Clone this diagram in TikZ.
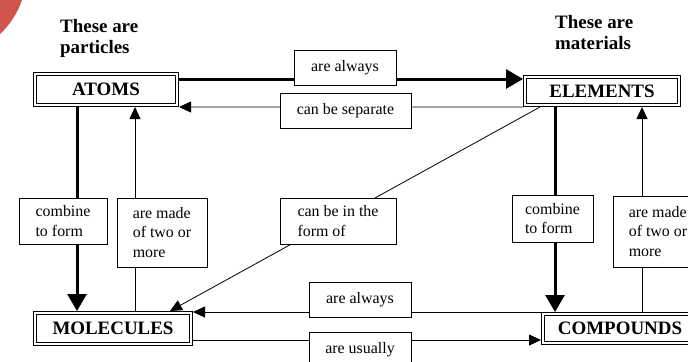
\documentclass[tikz,border=0pt]{standalone}
\usepackage{fontspec}
\setmainfont{Liberation Serif}
\usetikzlibrary{arrows.meta}
\pgfdeclarelayer{background}
\pgfsetlayers{background,main}
\definecolor{cornerred}{RGB}{207,84,74}

\tikzset{
  concept/.style={draw, double, double distance=2bp, line width=0.8bp, fill=white,
    outer sep=1.8bp, inner sep=0pt, font=\fontsize{19}{22}\selectfont\bfseries},
  linkbox/.style={draw, line width=0.8bp, fill=white, inner sep=0pt, minimum height=35bp,
    align=left, font=\fontsize{16}{19.5}\selectfont},
  heading/.style={anchor=north west, inner sep=0pt, align=left,
    font=\fontsize{19}{21.5}\selectfont\bfseries},
  strong/.style={line width=3bp, -{Triangle[length=17bp,width=19bp]}},
  weak/.style={line width=0.8bp, -{Triangle[length=12bp,width=11bp]}},
}

\begin{document}
\begin{tikzpicture}[x=1bp,y=-1bp]
 	 	\useasboundingbox (0,0) rectangle (688,361);
 	 	\fill[cornerred] (0,0) -- (22,0) .. controls (18,12) and (10,25) .. (0,34) -- cycle;

 	 	\node[heading] (particles) at (60,19) {These are\\particles};
 	 	\node[heading] (materials) at (555,15) {These are\\materials};

 	 	\node[concept, minimum width=142.4bp, minimum height=31.4bp] (atoms) at (106,89.5) {ATOMS};
 	 	\node[concept, minimum width=154.4bp, minimum height=28.4bp] (elements) at (602,91) {ELEMENTS};
 	 	\node[concept, minimum width=156.4bp, minimum height=31.4bp] (molecules) at (113,328.5) {MOLECULES};
 	 	\node[concept, minimum width=154.4bp, minimum height=29.4bp] (compounds) at (620,328.5) {COMPOUNDS};

 	 	\node[linkbox, minimum width=102bp] (always1) at (345,67.5) {are always};
 	 	\node[linkbox, minimum width=131bp] (separate) at (345.5,110.5) {can be separate};
 	 	\node[linkbox, minimum width=88bp, minimum height=46bp] (combineL) at (63,221) {combine\\to form};
 	 	\node[linkbox, minimum width=90bp, minimum height=69bp] (madeL) at (162,232.5) {are made\\of two or\\more};
 	 	\node[linkbox, minimum width=116bp, minimum height=46bp] (formof) at (338,221) {can be in the\\form of};
 	 	\node[linkbox, minimum width=81bp, minimum height=47bp] (combineR) at (552.5,218.5) {combine\\to form};
 	 	\node[linkbox, minimum width=90bp, minimum height=71bp] (madeR) at (658,231.5) {are made\\of two or\\more};
 	 	\node[linkbox, minimum width=102bp] (always2) at (360,299.5) {are always};
 	 	\node[linkbox, minimum width=102bp] (usually) at (360,349.5) {are usually};

 	 	\begin{pgfonlayer}{background}
 	 	\draw[strong] ([yshift=-7bp]atoms.north east) -- ([yshift=-7bp]atoms.north east -| elements.west);
 	 	\draw[weak] (elements.south west) -- (atoms.south east);
 	 	\draw[strong] ([xshift=44bp]atoms.south west) -- ([xshift=44bp]atoms.south west |- molecules.north);
 	 	\draw[weak] ([xshift=102bp]molecules.north west) -- ([xshift=102bp]molecules.north west |- atoms.south);
 	 	\draw[weak] ([xshift=17bp]elements.south west) -- ([xshift=137bp]molecules.north west);
 	 	\draw[strong] ([xshift=32bp]elements.south west) -- ([xshift=32bp]elements.south west |- compounds.north);
 	 	\draw[weak] ([xshift=22bp]compounds.north) -- ([xshift=22bp]compounds.north |- elements.south);
 	 	\draw[weak] (compounds.north west) -- (compounds.north west -| molecules.east);
 	 	\draw[weak] ([yshift=6bp]molecules.south east) -- ([yshift=6bp]molecules.south east -| compounds.west);
 	 	\end{pgfonlayer}
\end{tikzpicture}
\end{document}
